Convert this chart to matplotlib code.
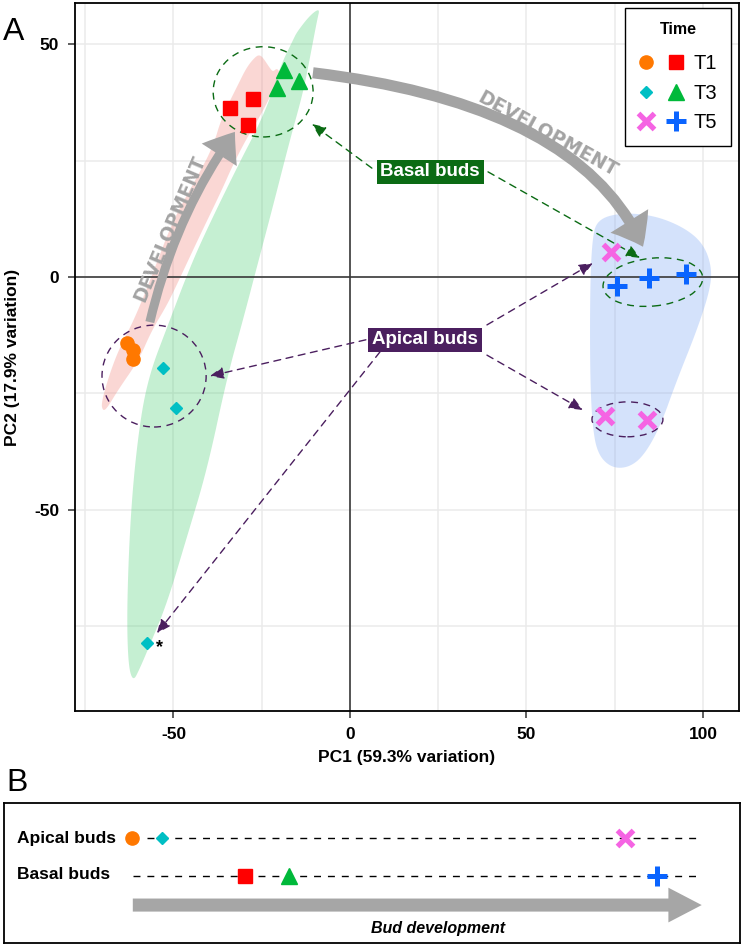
import numpy as np
import matplotlib
matplotlib.use('Agg')
import matplotlib.pyplot as plt
from matplotlib.patches import Ellipse, FancyArrowPatch, Polygon, ArrowStyle
from matplotlib.path import Path
from matplotlib.legend_handler import HandlerTuple
from matplotlib.lines import Line2D

plt.rcParams['font.family'] = ['Liberation Sans', 'DejaVu Sans']
plt.rcParams['axes.unicode_minus'] = False

# ---------------- data (PCA scores) ----------------
t1_apical_pc1 = [-63.2, -61.5, -61.5]
t1_apical_pc2 = [-14.2, -15.7, -17.6]
t1_basal_pc1 = [-34.0, -27.5, -28.9]
t1_basal_pc2 = [36.3, 38.3, 32.7]
t3_apical_pc1 = [-53.0, -49.3, -57.5]
t3_apical_pc2 = [-19.6, -28.2, -78.7]
t3_basal_pc1 = [-18.7, -14.4, -20.7]
t3_basal_pc2 = [44.5, 42.2, 40.6]
t5_apical_pc1 = [73.9, 72.2, 84.1]
t5_apical_pc2 = [5.4, -29.9, -30.8]
t5_basal_pc1 = [75.6, 84.7, 95.2]
t5_basal_pc2 = [-1.9, -0.2, 0.6]

time_labels = ['T1', 'T3', 'T5']

# group outlines (PC1, PC2)
hull_t1_pc1 = [-25.5, -24.6, -22.7, -21.8, -20.7, -19.8, -21.0, -24.9, -29.5, -33.4, -36.3, -43.1,
               -48.4, -51.8, -56.1, -59.8, -65.7, -68.8, -70.0, -70.5, -68.0, -65.2, -60.9, -55.8,
               -50.1, -43.3, -38.8, -36.3, -32.0, -29.2, -26.6]
hull_t1_pc2 = [47.7, 47.1, 44.9, 44.1, 44.9, 43.9, 41.3, 35.3, 29.5, 23.7, 18.7, 8.0,
               -0.6, -6.0, -11.4, -17.8, -24.3, -28.2, -28.8, -27.1, -20.6, -15.1, -8.8, 0.9,
               12.3, 21.5, 28.0, 34.4, 40.9, 45.2, 47.5]
hull_t3_pc1 = [-8.5, -9.3, -11.3, -13.3, -17.0, -22.1, -26.6, -30.3, -34.8, -40.5, -46.2, -51.8,
               -56.7, -59.5, -61.5, -62.9, -63.2, -62.0, -59.5, -56.7, -51.8, -45.3, -39.7, -30.9,
               -26.9, -22.7, -19.8, -16.1, -15.0, -11.3]
hull_t3_pc2 = [57.8, 55.3, 47.3, 39.6, 29.5, 14.4, 1.5, -9.2, -21.5, -41.5, -55.9, -70.1,
               -79.1, -84.1, -87.1, -83.0, -70.1, -48.6, -30.8, -20.6, -10.8, 2.2, 11.6, 25.2,
               31.0, 38.1, 45.2, 51.0, 52.7, 56.3]
hull_t5_pc1 = [70.0, 76.5, 85.8, 94.3, 100.0, 102.5, 102.0, 98.3, 92.6, 87.8, 83.0, 78.5,
               73.7, 70.0, 68.6, 68.0, 68.0, 68.6]
hull_t5_pc2 = [12.3, 13.8, 13.3, 10.8, 7.3, 2.2, -2.8, -11.4, -22.2, -32.3, -38.7, -41.1,
               -40.9, -37.8, -31.4, -20.6, -2.8, 8.0]

# panel B: relative position along bud development
apical_dev = [17.4, 21.5, 84.4]
basal_dev = [32.7, 38.7, 88.7]

# ---------------- styles ----------------
C_OR, C_RED, C_CYAN, C_GREEN, C_PINK, C_BLUE = '#ff7800', '#ff0000', '#00bfc4', '#00b93a', '#f564e3', '#0a64ff'
GRAY = '#a3a3a3'
DKGREEN = '#0b6b14'
PURPLE = '#4b1f5f'

sty = {
    'T1a': dict(marker='o', color=C_OR, ms=9.5),
    'T1b': dict(marker='s', color=C_RED, ms=9.5),
    'T3a': dict(marker='D', color=C_CYAN, ms=6.5),
    'T3b': dict(marker='^', color=C_GREEN, ms=11.5),
    'T5a': dict(marker='x', color=C_PINK, ms=11, mew=3.8),
    'T5b': dict(marker='+', color=C_BLUE, ms=14, mew=3.6),
}


def chaikin(xs, ys, n=3):
    pts = np.column_stack([xs, ys]).astype(float)
    for _ in range(n):
        nxt = np.roll(pts, -1, axis=0)
        q = 0.75 * pts + 0.25 * nxt
        r = 0.25 * pts + 0.75 * nxt
        pts = np.empty((2 * len(q), 2))
        pts[0::2] = q
        pts[1::2] = r
    return pts


fig = plt.figure(figsize=(7.44, 9.47), dpi=100)
ax = fig.add_axes([75 / 744, 1 - 711 / 947, (739 - 75) / 744, (711 - 3) / 947])
ax.set_xlim(-77.9, 110.2)
ax.set_ylim(-93.3, 58.9)
ax.set_xticks([-50, 0, 50, 100])
ax.set_xticks([-75, -25, 25, 75], minor=True)
ax.set_yticks([-50, 0, 50])
ax.set_yticks([-75, -25, 25], minor=True)
ax.grid(which='both', color='#ebebeb', lw=1.1)
ax.set_axisbelow(True)
ax.tick_params(which='major', length=5, width=1.1, color='#333333', labelsize=12.5, pad=6.5)
ax.tick_params(which='minor', length=0)
for lab in ax.get_xticklabels() + ax.get_yticklabels():
    lab.set_fontweight('bold')
for s in ax.spines.values():
    s.set_linewidth(1.3)
    s.set_color('black')
ax.set_xlabel('PC1 (59.3% variation)', fontweight='bold', fontsize=12.5, labelpad=6)
ax.set_ylabel('PC2 (17.9% variation)', fontweight='bold', fontsize=12.5, labelpad=10)

# group regions
for hx, hy, col in [(hull_t1_pc1, hull_t1_pc2, '#f2877f'),
                    (hull_t3_pc1, hull_t3_pc2, '#4fcf77'),
                    (hull_t5_pc1, hull_t5_pc2, '#7fa8f5')]:
    ax.add_patch(Polygon(chaikin(hx, hy), closed=True, fc=col, ec='none', alpha=0.33, zorder=1))

ax.axhline(0, color='#3a3a3a', lw=1.2, zorder=1.5)
ax.axvline(0, color='#3a3a3a', lw=1.2, zorder=1.5)

# dashed group circles
DASH = (0, (5, 4))
for (cx, cy), w, h, ang, col in [((-24.6, 39.8), 28.3, 19.4, 0, DKGREEN),
                                 ((-55.5, -21.3), 29.5, 21.9, 0, PURPLE),
                                 ((85.8, -1.1), 28.3, 10.3, 4, DKGREEN),
                                 ((78.6, -30.6), 20.1, 7.5, 0, PURPLE)]:
    ax.add_patch(Ellipse((cx, cy), w, h, angle=ang, fill=False, ec=col, lw=1.0, ls=DASH, zorder=2))

# dashed annotation arrows
arrows = [((6.2, 23.4), (-10.8, 32.9), DKGREEN),
          ((39.1, 22.6), (82.2, 4.1), DKGREEN),
          ((4.5, -13.5), (-39.7, -21.3), PURPLE),
          ((8.5, -16.1), (-54.7, -76.6), PURPLE),
          ((38.8, -10.3), (68.8, 3.0), PURPLE),
          ((38.8, -16.8), (66.0, -28.6), PURPLE)]
for start, end, col in arrows:
    ax.annotate('', xy=end, xytext=start,
                arrowprops=dict(arrowstyle='-|>,head_length=0.7,head_width=0.3', color=col, lw=1.0,
                                ls=DASH, shrinkA=0, shrinkB=0, mutation_scale=12), zorder=3)

# big grey development arrows
for p0, c, p2, tw, hw, hl in [((-56.7, -9.7), (-49.5, 13.5), (-32.6, 31.2), 6.5, 30, 20),
                              ((-10.5, 43.9), (65.2, 37.0), (83.0, 6.5), 8, 32, 21)]:
    path = Path([p0, c, p2], [Path.MOVETO, Path.CURVE3, Path.CURVE3])
    ax.add_patch(FancyArrowPatch(path=path, arrowstyle=ArrowStyle.Simple(head_length=hl, head_width=hw, tail_width=tw),
                                 mutation_scale=1, fc=GRAY, ec='none', transform=ax.transData, zorder=5))
ax.text(-51.0, 10.4, 'DEVELOPMENT', rotation=67, rotation_mode='anchor', ha='center', va='center',
        color=GRAY, fontweight='bold', fontsize=13.5, family=['DejaVu Sans'], zorder=5)
ax.text(55.8, 30.6, 'DEVELOPMENT', rotation=-29, rotation_mode='anchor', ha='center', va='center',
        color=GRAY, fontweight='bold', fontsize=13.5, family=['DejaVu Sans'], zorder=5)

# label boxes
ax.text(22.7, 22.6, 'Basal buds', color='white', fontweight='bold', fontsize=13.5, ha='center', va='center',
        bbox=dict(boxstyle='square,pad=0.2', fc=DKGREEN, ec='none'), zorder=6)
ax.text(21.2, -13.5, 'Apical buds', color='white', fontweight='bold', fontsize=13.5, ha='center', va='center',
        bbox=dict(boxstyle='square,pad=0.2', fc=PURPLE, ec='none'), zorder=6)

# points
handles = {}
for key, xs, ys in [('T1a', t1_apical_pc1, t1_apical_pc2), ('T1b', t1_basal_pc1, t1_basal_pc2),
                    ('T3a', t3_apical_pc1, t3_apical_pc2), ('T3b', t3_basal_pc1, t3_basal_pc2),
                    ('T5a', t5_apical_pc1, t5_apical_pc2), ('T5b', t5_basal_pc1, t5_basal_pc2)]:
    handles[key], = ax.plot(xs, ys, ls='none', zorder=7, **sty[key])
ax.text(-54.1, -79.6, '*', fontweight='bold', fontsize=13, ha='center', va='center', zorder=7)

leg = ax.legend([(handles['T1a'], handles['T1b']), (handles['T3a'], handles['T3b']), (handles['T5a'], handles['T5b'])],
                time_labels, handler_map={tuple: HandlerTuple(ndivide=None, pad=0.7)},
                title='Time', title_fontproperties={'weight': 'bold', 'size': 11.5},
                fontsize=14.5, loc='upper right', bbox_to_anchor=((731 - 75) / 664, (711 - 8) / 708),
                borderaxespad=0, frameon=True, fancybox=False, framealpha=1, edgecolor='black',
                handlelength=2.2, handletextpad=0.5, borderpad=0.7, labelspacing=0.52)
leg._legend_box.sep = 12.5
leg.get_frame().set_linewidth(1.0)
leg.set_zorder(10)

fig.text(3 / 744, 1 - 40 / 947, 'A', fontsize=23, ha='left', va='baseline')
fig.text(6 / 744, 1 - 791 / 947, 'B', fontsize=23, ha='left', va='baseline')

# ---------------- panel B ----------------
axb = fig.add_axes([4 / 744, 1 - 943 / 947, 736 / 744, 140 / 947])
axb.set_xlim(0, 100)
axb.set_ylim(0, 1)
axb.set_xticks([])
axb.set_yticks([])
for s in axb.spines.values():
    s.set_linewidth(1.3)
ROW_A, ROW_B = 0.75, 0.479
axb.plot([19.4, 94.8], [ROW_A, ROW_A], color='black', lw=1.0, ls=(0, (5, 5)), zorder=1)
axb.plot([17.5, 94.8], [ROW_B, ROW_B], color='black', lw=1.0, ls=(0, (5, 5)), zorder=1)
for i, key in enumerate(['T1a', 'T3a', 'T5a']):
    axb.plot([apical_dev[i]], [ROW_A], ls='none', zorder=3, **sty[key])
for i, key in enumerate(['T1b', 'T3b', 'T5b']):
    axb.plot([basal_dev[i]], [ROW_B], ls='none', zorder=3, **sty[key])
axb.text(1.8, ROW_A, 'Apical buds', fontweight='bold', fontsize=12.5, va='center', ha='left')
axb.text(1.8, ROW_B + 0.01, 'Basal buds', fontweight='bold', fontsize=12.5, va='center', ha='left')
axb.add_patch(FancyArrowPatch((17.5, 0.271), (94.8, 0.271),
                              arrowstyle=ArrowStyle.Simple(head_length=24, head_width=25, tail_width=9.4),
                              mutation_scale=1, shrinkA=0, shrinkB=0, fc='#a6a6a6', ec='none'))
axb.text(59.0, 0.107, 'Bud development', style='italic', fontweight='bold', fontsize=11.5,
         ha='center', va='center')

fig.savefig('out.png', dpi=100)
